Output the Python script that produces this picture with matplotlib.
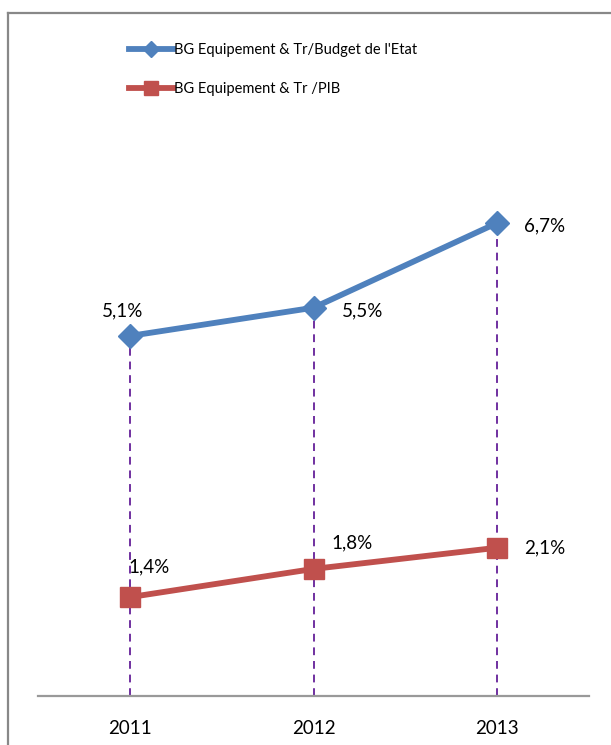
import matplotlib.pyplot as plt
from matplotlib.lines import Line2D

years = ['2011', '2012', '2013']
budget_etat = [5.1, 5.5, 6.7]   # BG Equipement & Tr/Budget de l'Etat (%)
pib = [1.4, 1.8, 2.1]           # BG Equipement & Tr /PIB (%)

plt.rcParams['font.family'] = ['Lato', 'DejaVu Sans']

W, H = 611, 745
fig = plt.figure(figsize=(W / 100, H / 100), dpi=100)

# axes box in pixel coords -> figure fraction
x0, x1, ytop, ybot = 38, 589, 100, 696
ax = fig.add_axes([x0 / W, 1 - ybot / H, (x1 - x0) / W, (ybot - ytop) / H])

x = list(range(len(years)))
blue = '#4F81BD'
red = '#C0504D'
purple = '#7030A0'

# drop lines
ax.vlines(x, 0, budget_etat, colors=purple, linestyles=(0, (4, 3)), linewidth=1.4, zorder=1)

ax.plot(x, budget_etat, color=blue, lw=4.2, marker='D', ms=12, label="BG Equipement & Tr/Budget de l'Etat", zorder=3)
ax.plot(x, pib, color=red, lw=4.2, marker='s', ms=14, label='BG Equipement & Tr /PIB', zorder=3)

# data labels (offsets in points)
fmt = lambda v: ('%.1f%%' % v).replace('.', ',')
blue_off = [(-5, 18), (35, -2), (34, -2)]
red_off = [(14, 22), (28, 19), (34, 0)]
for i, v in enumerate(budget_etat):
    ax.annotate(fmt(v), (x[i], v), xytext=blue_off[i], textcoords='offset points',
                ha='center', va='center', fontsize=13.5, color='black')
for i, v in enumerate(pib):
    ax.annotate(fmt(v), (x[i], v), xytext=red_off[i], textcoords='offset points',
                ha='center', va='center', fontsize=13.5, color='black')

ax.set_xlim(-0.5, 2.5)
ax.set_ylim(0, (ybot - ytop) / 70.6)
ax.set_xticks(x)
ax.set_xticklabels(years, fontsize=13.5)
ax.tick_params(axis='x', length=0, pad=17)
ax.set_yticks([])
for s in ['top', 'left', 'right']:
    ax.spines[s].set_visible(False)
ax.spines['bottom'].set_color('#999999')
ax.spines['bottom'].set_linewidth(1.6)

leg = fig.legend(loc='upper left', bbox_to_anchor=(116 / W, 1 - 30 / H), frameon=False,
                 fontsize=10.5, handlelength=3.0, labelspacing=1.7, handletextpad=0.05,
                 markerscale=0.7)

# outer frame (top and left edges only)
fig.add_artist(Line2D([8 / W, 1], [1 - 13 / H, 1 - 13 / H], color='#888888', lw=1.6))
fig.add_artist(Line2D([8 / W, 8 / W], [0, 1 - 13 / H], color='#888888', lw=1.6))

fig.savefig('out.png', dpi=100)
